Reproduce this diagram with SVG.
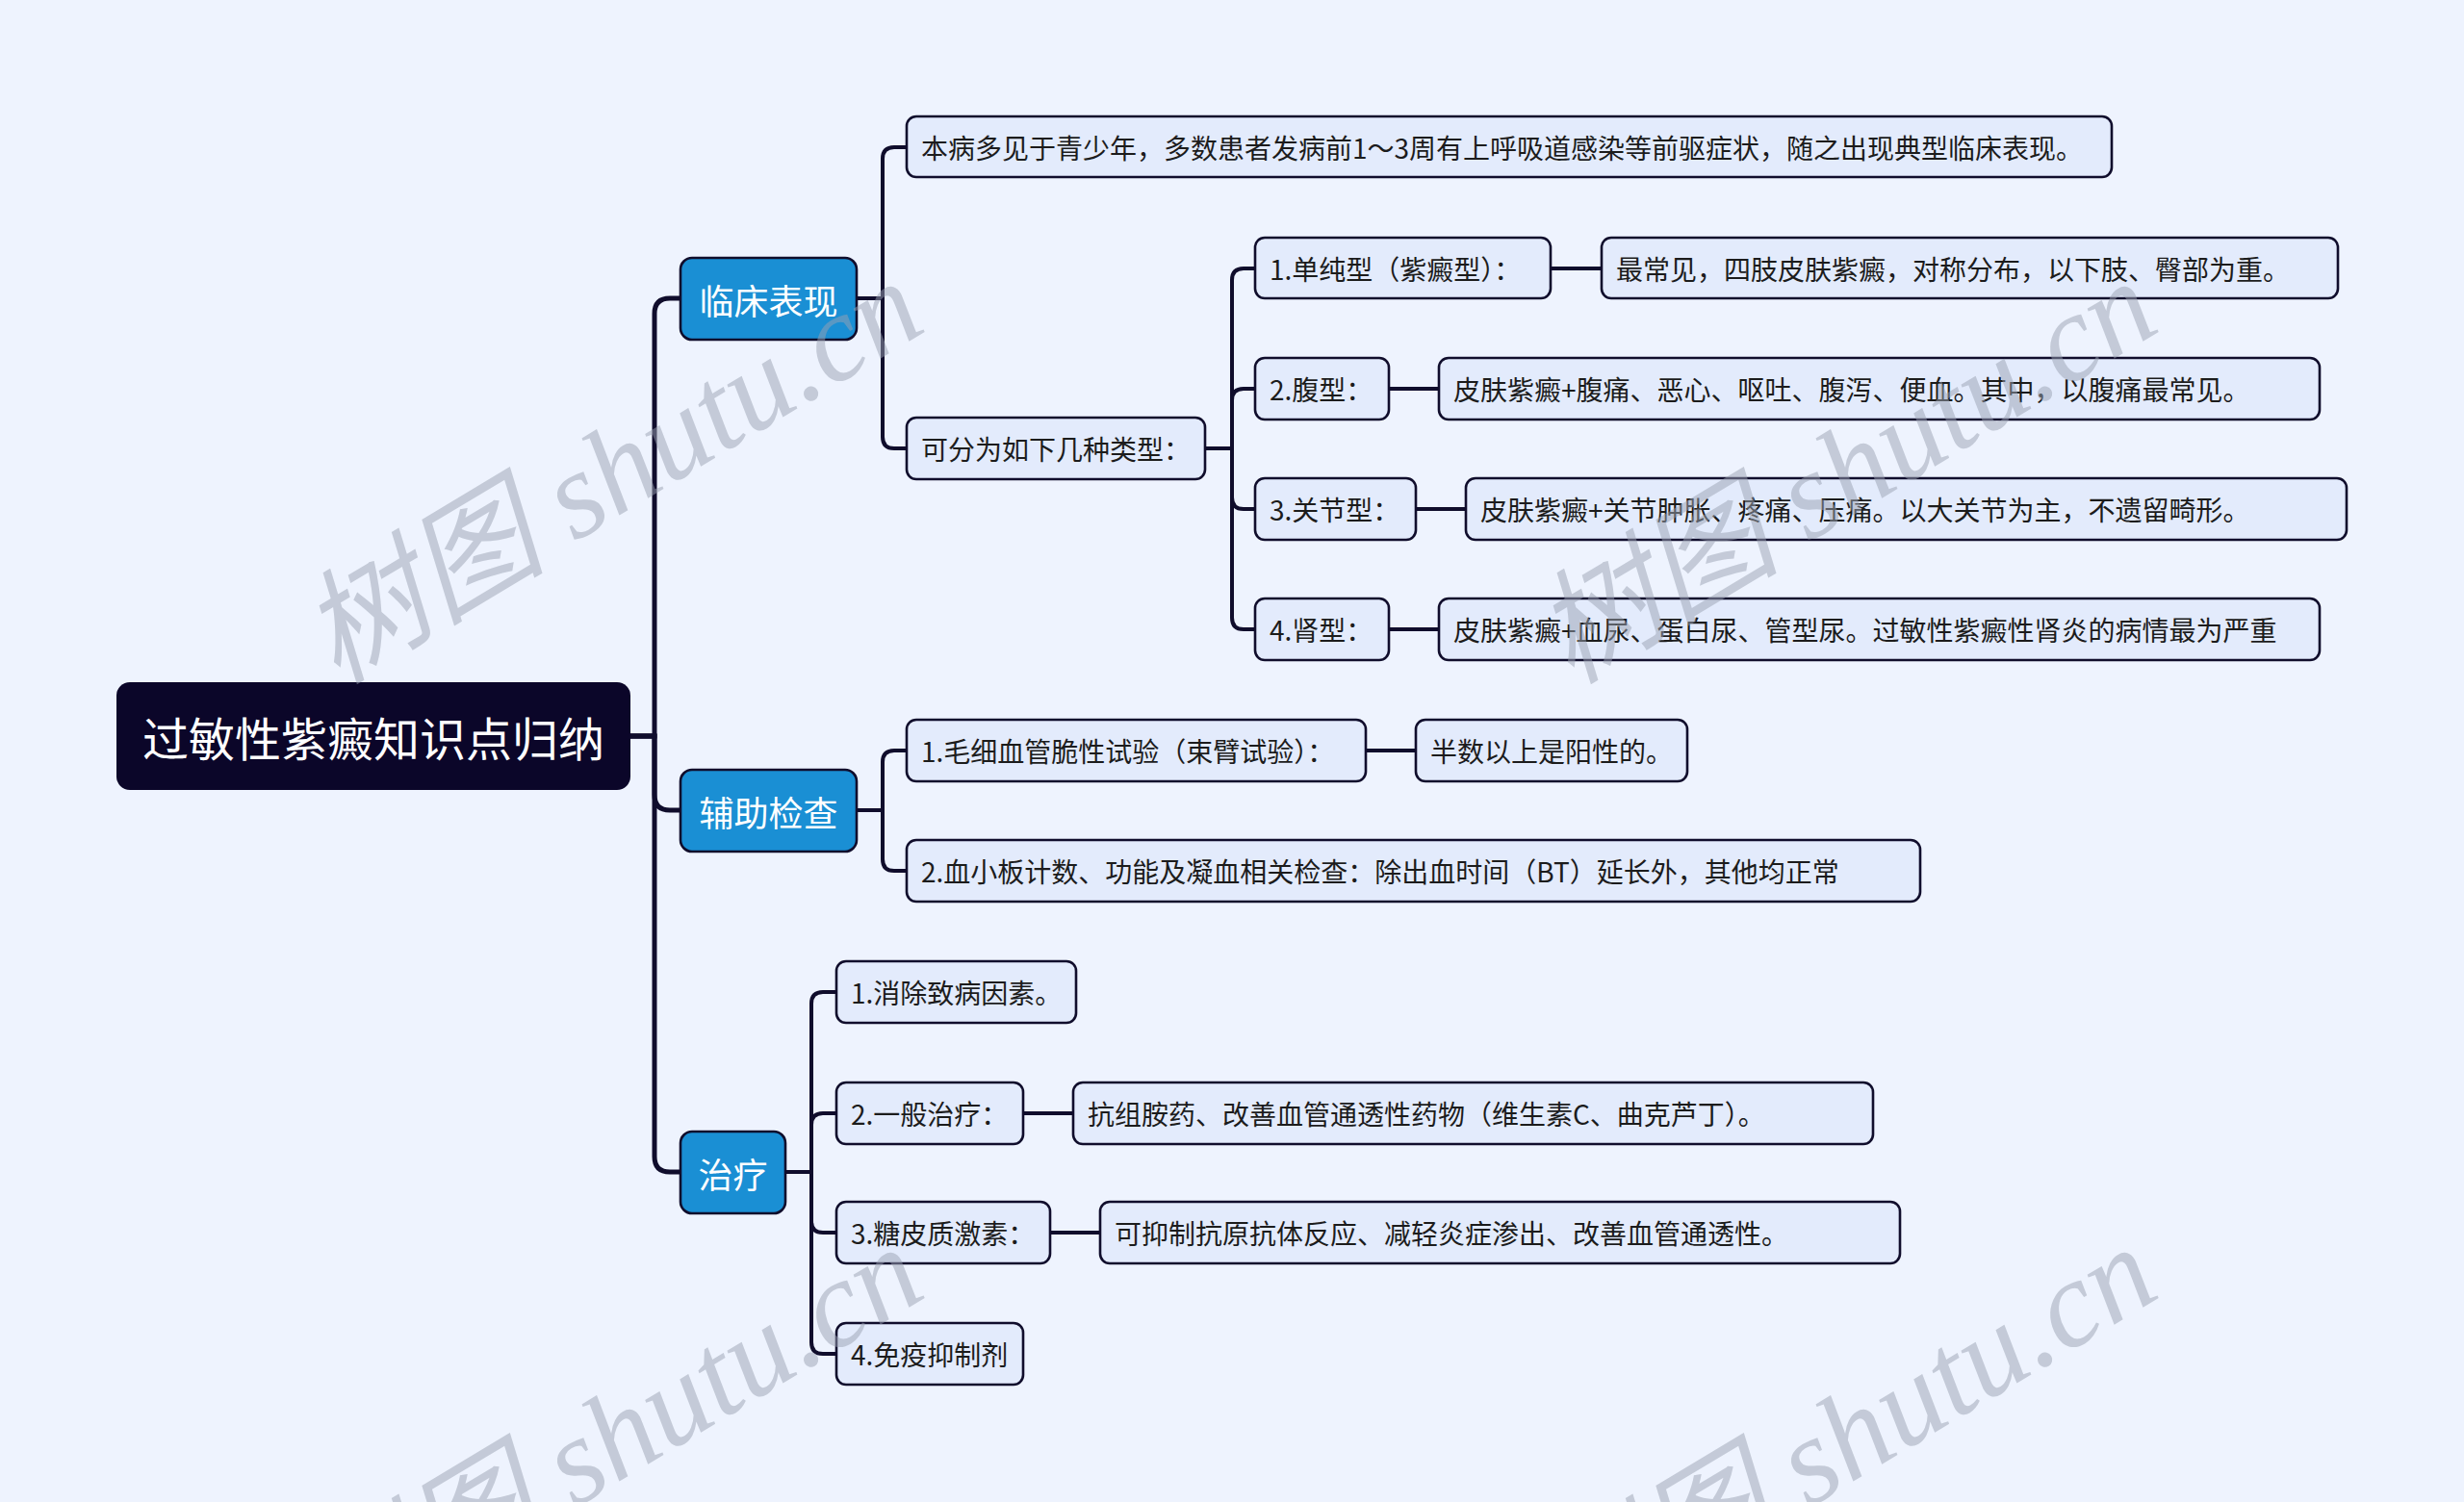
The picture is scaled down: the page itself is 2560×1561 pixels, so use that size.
<svg xmlns="http://www.w3.org/2000/svg" width="2560" height="1561" viewBox="0 0 2560 1561">
<style>
.bg{fill:#eef3fe}
.leaf rect{fill:#e3ebfc;stroke:#100d2c;stroke-width:2.6}
.leaf text{font-family:"Noto Sans CJK SC","Liberation Sans",sans-serif;font-size:28px;fill:#1c1c1c;dominant-baseline:central}
.l1 rect{fill:#1a8fd4;stroke:#100d2c;stroke-width:2.6}
.l1 text{font-family:"Noto Sans CJK SC","Liberation Sans",sans-serif;font-size:36px;fill:#ffffff;text-anchor:middle;dominant-baseline:central}
.root rect{fill:#0b0629}
.root text{font-family:"Noto Sans CJK SC","Liberation Sans",sans-serif;font-size:48px;fill:#ffffff;text-anchor:middle;dominant-baseline:central}
.conn path{fill:none;stroke:#100d2c;stroke-width:4;stroke-linecap:round}
.conn .main{stroke-width:5}
.wm text{font-family:"Liberation Serif","Noto Sans CJK SC",serif;font-style:italic;font-size:128px;fill:#9aa2b2;fill-opacity:0.5}
</style>
<rect class="bg" x="0" y="0" width="2560" height="1561"/>

<g class="conn" id="connectors">
<path class="main" d="M655,765 H680 V326 Q680,310 696,310 H707"/>
<path class="main" d="M655,765 H680 V826 Q680,842 696,842 H707"/>
<path class="main" d="M655,765 H680 V1202 Q680,1218 696,1218 H707"/>
<path d="M890,310 H917 V165 Q917,153 929,153 H942"/>
<path d="M890,310 H917 V454 Q917,466 929,466 H942"/>
<path d="M1252,466 H1280 V291 Q1280,279 1292,279 H1304"/>
<path d="M1252,466 H1280 V416 Q1280,404 1292,404 H1304"/>
<path d="M1252,466 H1280 V517 Q1280,529 1292,529 H1304"/>
<path d="M1252,466 H1280 V642 Q1280,654 1292,654 H1304"/>
<path d="M1611,279 H1664"/>
<path d="M1443,404 H1495"/>
<path d="M1471,529 H1523"/>
<path d="M1443,654 H1495"/>
<path d="M890,842 H917 V792 Q917,780 929,780 H942"/>
<path d="M890,842 H917 V893 Q917,905 929,905 H942"/>
<path d="M1419,780 H1471"/>
<path d="M816,1218 H843 V1043 Q843,1031 855,1031 H869"/>
<path d="M816,1218 H843 V1169 Q843,1157 855,1157 H869"/>
<path d="M816,1218 H843 V1269 Q843,1281 855,1281 H869"/>
<path d="M816,1218 H843 V1395 Q843,1407 855,1407 H869"/>
<path d="M1063,1157 H1115"/>
<path d="M1091,1281 H1143"/>
</g>

<g id="root" class="root"><rect x="121" y="709" width="534" height="112" rx="14"/><text x="388" y="765">过敏性紫癜知识点归纳</text></g>

<g id="n-linchuang" class="l1"><rect x="707" y="268" width="183" height="85" rx="12"/><text x="798.5" y="310.5">临床表现</text></g>
<g id="n-fuzhu" class="l1"><rect x="707" y="800" width="183" height="85" rx="12"/><text x="798.5" y="842.5">辅助检查</text></g>
<g id="n-zhiliao" class="l1"><rect x="707" y="1176" width="109" height="85" rx="12"/><text x="761.5" y="1218.5">治疗</text></g>

<g id="n-a" class="leaf"><rect x="942" y="121" width="1252" height="63" rx="10"/><text x="957" y="153">本病多见于青少年，多数患者发病前1～3周有上呼吸道感染等前驱症状，随之出现典型临床表现。</text></g>
<g id="n-b" class="leaf"><rect x="942" y="434" width="310" height="64" rx="10"/><text x="957" y="466">可分为如下几种类型：</text></g>

<g id="n-b1" class="leaf"><rect x="1304" y="247" width="307" height="63" rx="10"/><text x="1319" y="279">1.单纯型（紫癜型）：</text></g>
<g id="n-b1x" class="leaf"><rect x="1664" y="247" width="765" height="63" rx="10"/><text x="1679" y="279">最常见，四肢皮肤紫癜，对称分布，以下肢、臀部为重。</text></g>
<g id="n-b2" class="leaf"><rect x="1304" y="372" width="139" height="64" rx="10"/><text x="1319" y="404">2.腹型：</text></g>
<g id="n-b2x" class="leaf"><rect x="1495" y="372" width="915" height="64" rx="10"/><text x="1510" y="404">皮肤紫癜+腹痛、恶心、呕吐、腹泻、便血。其中，以腹痛最常见。</text></g>
<g id="n-b3" class="leaf"><rect x="1304" y="497" width="167" height="64" rx="10"/><text x="1319" y="529">3.关节型：</text></g>
<g id="n-b3x" class="leaf"><rect x="1523" y="497" width="915" height="64" rx="10"/><text x="1538" y="529">皮肤紫癜+关节肿胀、疼痛、压痛。以大关节为主，不遗留畸形。</text></g>
<g id="n-b4" class="leaf"><rect x="1304" y="622" width="139" height="64" rx="10"/><text x="1319" y="654">4.肾型：</text></g>
<g id="n-b4x" class="leaf"><rect x="1495" y="622" width="915" height="64" rx="10"/><text x="1510" y="654">皮肤紫癜+血尿、蛋白尿、管型尿。过敏性紫癜性肾炎的病情最为严重</text></g>

<g id="n-c1" class="leaf"><rect x="942" y="748" width="477" height="64" rx="10"/><text x="957" y="780">1.毛细血管脆性试验（束臂试验）：</text></g>
<g id="n-c1x" class="leaf"><rect x="1471" y="748" width="282" height="64" rx="10"/><text x="1486" y="780">半数以上是阳性的。</text></g>
<g id="n-c2" class="leaf"><rect x="942" y="873" width="1053" height="64" rx="10"/><text x="957" y="905">2.血小板计数、功能及凝血相关检查：除出血时间（BT）延长外，其他均正常</text></g>

<g id="n-d1" class="leaf"><rect x="869" y="999" width="249" height="64" rx="10"/><text x="884" y="1031">1.消除致病因素。</text></g>
<g id="n-d2" class="leaf"><rect x="869" y="1125" width="194" height="64" rx="10"/><text x="884" y="1157">2.一般治疗：</text></g>
<g id="n-d2x" class="leaf"><rect x="1115" y="1125" width="831" height="64" rx="10"/><text x="1130" y="1157">抗组胺药、改善血管通透性药物（维生素C、曲克芦丁）。</text></g>
<g id="n-d3" class="leaf"><rect x="869" y="1249" width="222" height="64" rx="10"/><text x="884" y="1281">3.糖皮质激素：</text></g>
<g id="n-d3x" class="leaf"><rect x="1143" y="1249" width="831" height="64" rx="10"/><text x="1158" y="1281">可抑制抗原抗体反应、减轻炎症渗出、改善血管通透性。</text></g>
<g id="n-d4" class="leaf"><rect x="869" y="1375" width="194" height="64" rx="10"/><text x="884" y="1407">4.免疫抑制剂</text></g>

<g class="wm">
<text transform="translate(350,712) rotate(-31)">树图 shutu.cn</text>
<text transform="translate(1632,712) rotate(-31)">树图 shutu.cn</text>
<text transform="translate(350,1716) rotate(-31)">树图 shutu.cn</text>
<text transform="translate(1632,1716) rotate(-31)">树图 shutu.cn</text>
</g>
</svg>
